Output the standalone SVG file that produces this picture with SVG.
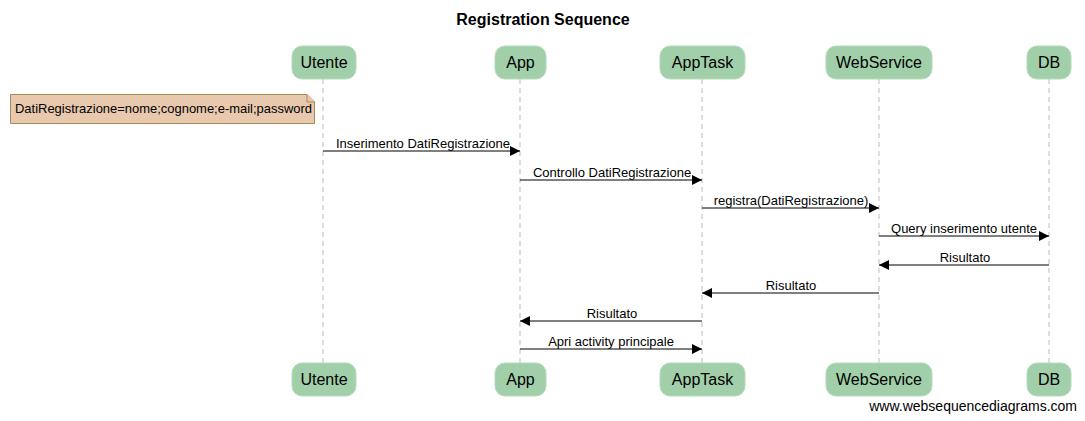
<svg xmlns="http://www.w3.org/2000/svg" width="1085" height="421" viewBox="0 0 1085 421">
<defs>
<marker id="ah" viewBox="0 0 10 10" refX="10" refY="5" markerWidth="10" markerHeight="10" markerUnits="userSpaceOnUse" orient="auto">
<path d="M0,0 L10,5 L0,10 Z" fill="#000"/>
</marker>
</defs>
<style>
text{font-family:"Liberation Sans",Arial,sans-serif;fill:#000}
.title{font-size:16px;font-weight:bold}
.part rect{fill:#a1cfa9;stroke:#b5dcbb;stroke-width:1}
.part text{font-size:16px}
.life{stroke:#bbb;stroke-width:1;stroke-dasharray:5,4}
.msg{stroke:#000;stroke-width:1;fill:none;marker-end:url(#ah)}
.lbl{font-size:13px}
.note path{fill:#e9c9ae;stroke:#a88958}
.note text{font-size:13px}
.wm{font-size:14px}
</style>
<rect width="1085" height="421" fill="#fff"/>
<text class="title" x="543" y="25" text-anchor="middle">Registration Sequence</text>
<g id="lifelines">
<line class="life" x1="323" y1="79" x2="323" y2="363"/>
<line class="life" x1="520" y1="79" x2="520" y2="363"/>
<line class="life" x1="702" y1="79" x2="702" y2="363"/>
<line class="life" x1="879" y1="79" x2="879" y2="363"/>
<line class="life" x1="1049" y1="79" x2="1049" y2="363"/>
</g>
<g id="utente" class="part">
<rect x="292" y="46" width="64" height="33" rx="10"/>
<text x="324" y="68" text-anchor="middle">Utente</text>
<rect x="292" y="363" width="64" height="33" rx="10"/>
<text x="324" y="385" text-anchor="middle">Utente</text>
</g>
<g id="app" class="part">
<rect x="495" y="46" width="51" height="33" rx="10"/>
<text x="520.5" y="68" text-anchor="middle">App</text>
<rect x="495" y="363" width="51" height="33" rx="10"/>
<text x="520.5" y="385" text-anchor="middle">App</text>
</g>
<g id="apptask" class="part">
<rect x="660" y="46" width="85" height="33" rx="10"/>
<text x="702.5" y="68" text-anchor="middle">AppTask</text>
<rect x="660" y="363" width="85" height="33" rx="10"/>
<text x="702.5" y="385" text-anchor="middle">AppTask</text>
</g>
<g id="webservice" class="part">
<rect x="826" y="46" width="106" height="33" rx="10"/>
<text x="879" y="68" text-anchor="middle">WebService</text>
<rect x="826" y="363" width="106" height="33" rx="10"/>
<text x="879" y="385" text-anchor="middle">WebService</text>
</g>
<g id="db" class="part">
<rect x="1027" y="46" width="44" height="33" rx="10"/>
<text x="1049" y="68" text-anchor="middle">DB</text>
<rect x="1027" y="363" width="44" height="33" rx="10"/>
<text x="1049" y="385" text-anchor="middle">DB</text>
</g>
<g id="note" class="note">
<path d="M10.5,94.5 H307 L314.5,102 V123.5 H10.5 Z"/>
<path d="M307,94.5 V102 H314.5" fill="none"/>
<text x="15" y="113" textLength="297" lengthAdjust="spacingAndGlyphs">DatiRegistrazione=nome;cognome;e-mail;password</text>
</g>
<g id="connectors">
<line class="msg" x1="323" y1="151" x2="520" y2="151"/>
<text class="lbl" x="423" y="148" text-anchor="middle">Inserimento DatiRegistrazione</text>
<line class="msg" x1="520" y1="180" x2="702" y2="180"/>
<text class="lbl" x="612" y="177" text-anchor="middle">Controllo DatiRegistrazione</text>
<line class="msg" x1="702" y1="208" x2="879" y2="208"/>
<text class="lbl" x="791" y="205" text-anchor="middle">registra(DatiRegistrazione)</text>
<line class="msg" x1="879" y1="236" x2="1049" y2="236"/>
<text class="lbl" x="964" y="233" text-anchor="middle">Query inserimento utente</text>
<line class="msg" x1="1049" y1="265" x2="879" y2="265"/>
<text class="lbl" x="965" y="262" text-anchor="middle">Risultato</text>
<line class="msg" x1="879" y1="293" x2="702" y2="293"/>
<text class="lbl" x="791" y="290" text-anchor="middle">Risultato</text>
<line class="msg" x1="702" y1="321" x2="520" y2="321"/>
<text class="lbl" x="612" y="318" text-anchor="middle">Risultato</text>
<line class="msg" x1="520" y1="349" x2="702" y2="349"/>
<text class="lbl" x="611" y="346" text-anchor="middle">Apri activity principale</text>
</g>
<text class="wm" x="1077" y="411" text-anchor="end">www.websequencediagrams.com</text>
</svg>
